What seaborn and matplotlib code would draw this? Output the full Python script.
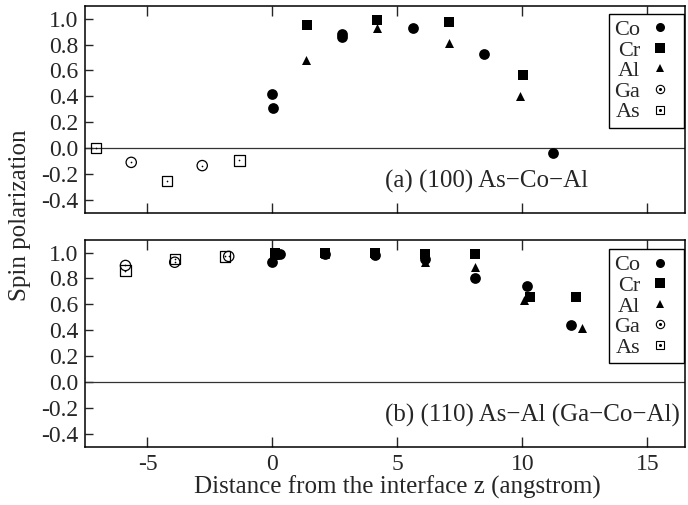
import matplotlib
matplotlib.use("Agg")
import matplotlib.pyplot as plt
import seaborn as sns
import numpy as np
import pandas as pd
from matplotlib.lines import Line2D
from matplotlib.legend_handler import HandlerTuple

# (a) (100) As-Co-Al
co_a_z = [0.0, 0.03, 2.8, 2.8, 5.63, 8.48, 11.23]
co_a_p = [0.42, 0.31, 0.885, 0.86, 0.93, 0.73, -0.04]
cr_a_z = [1.37, 4.2, 7.05, 10.03]
cr_a_p = [0.95, 0.99, 0.975, 0.565]
al_a_z = [1.35, 4.2, 7.05, 9.92]
al_a_p = [0.68, 0.93, 0.815, 0.40]
ga_a_z = [-5.65, -2.81]
ga_a_p = [-0.11, -0.135]
as_a_z = [-7.05, -4.21, -1.32]
as_a_p = [0.0, -0.255, -0.095]

# (b) (110) As-Al (Ga-Co-Al)
co_b_z = [0.0, 0.32, 2.1, 4.12, 6.12, 8.12, 10.19, 11.95]
co_b_p = [0.925, 0.99, 0.985, 0.98, 0.95, 0.80, 0.74, 0.44]
cr_b_z = [0.12, 2.1, 4.12, 6.12, 8.12, 10.3, 12.16]
cr_b_p = [1.0, 1.0, 0.995, 0.99, 0.99, 0.655, 0.655]
al_b_z = [0.1, 2.1, 4.12, 6.12, 8.12, 10.08, 12.39]
al_b_p = [0.98, 0.99, 0.99, 0.93, 0.89, 0.635, 0.415]
ga_b_z = [-5.88, -3.91, -1.75]
ga_b_p = [0.90, 0.925, 0.97]
as_b_z = [-5.88, -3.91, -1.91]
as_b_p = [0.86, 0.95, 0.97]

elements = ['Co', 'Cr', 'Al', 'Ga', 'As']
panel_labels = ['(a) (100) As\u2212Co\u2212Al', '(b) (110) As\u2212Al (Ga\u2212Co\u2212Al)']
yticks = [-0.4, -0.2, 0.0, 0.2, 0.4, 0.6, 0.8, 1.0]

frames = []
for panel, series in [('a', [(co_a_z, co_a_p), (cr_a_z, cr_a_p), (al_a_z, al_a_p), (ga_a_z, ga_a_p), (as_a_z, as_a_p)]),
                      ('b', [(co_b_z, co_b_p), (cr_b_z, cr_b_p), (al_b_z, al_b_p), (ga_b_z, ga_b_p), (as_b_z, as_b_p)])]:
    for el, (z, p) in zip(elements, series):
        frames.append(pd.DataFrame({'panel': panel, 'element': el, 'z': z, 'P': p}))
df = pd.concat(frames, ignore_index=True)

sns.set_theme(style='ticks')
plt.rcParams['font.family'] = ['Liberation Serif', 'DejaVu Serif']
plt.rcParams['axes.unicode_minus'] = False

# marker style per element: (marker, size, filled)
styles = {
    'Co': ('o', 60, True),
    'Cr': ('s', 60, True),
    'Al': ('^', 42, True),
    'Ga': ('o', 55, False),
    'As': ('s', 55, False),
}

fig, axes = plt.subplots(2, 1, figsize=(6.88, 5.05), dpi=100, sharex=True)
fig.subplots_adjust(left=0.1235, right=0.9956, top=0.9887, bottom=0.1154, hspace=0.129)

# legend anchor: small gap on top, almost flush on the right
legend_anchor = [(0.998, 0.96), (0.998, 0.953)]

for ax, panel, label, anchor in zip(axes, ['a', 'b'], panel_labels, legend_anchor):
    ax.axhline(0, color='#333333', lw=0.9, zorder=1)
    for el in elements:
        sub = df[(df.panel == panel) & (df.element == el)]
        m, s, filled = styles[el]
        if filled:
            sns.scatterplot(data=sub, x='z', y='P', ax=ax, marker=m, s=s,
                            color='black', edgecolor='black', linewidth=0, zorder=3)
        else:
            sns.scatterplot(data=sub, x='z', y='P', ax=ax, marker=m, s=s,
                            facecolors='none', edgecolor='black', linewidth=0.9, zorder=3)
            sns.scatterplot(data=sub, x='z', y='P', ax=ax, marker='o', s=1.5,
                            color='black', edgecolor='black', linewidth=0, zorder=3)
    ax.set_xlim(-7.5, 16.5)
    ax.set_ylim(-0.5, 1.1)
    ax.set_xticks([-5, 0, 5, 10, 15])
    ax.set_yticks(yticks)
    ax.set_yticklabels([f'{v:.1f}' for v in yticks])
    ax.tick_params(axis='x', direction='in', top=True, bottom=True, length=7, width=1, labelsize=17, pad=5)
    ax.tick_params(axis='y', direction='in', left=True, right=False, length=6, width=1, labelsize=17, pad=5)
    for sp in ax.spines.values():
        sp.set_linewidth(1.1)
        sp.set_color('black')
    ax.set_xlabel('')
    ax.set_ylabel('')
    ax.text(4.5, -0.26, label, fontsize=18, ha='left', va='center')

    handles = []
    for el in elements:
        m, s, filled = styles[el]
        if filled:
            handles.append(Line2D([], [], ls='none', marker=m, markersize=6.5 if m != '^' else 6,
                                  color='black', markeredgewidth=0))
        else:
            h1 = Line2D([], [], ls='none', marker=m, markersize=6, markerfacecolor='none',
                        markeredgecolor='black', markeredgewidth=0.8)
            h2 = Line2D([], [], ls='none', marker='o', markersize=1.2, color='black')
            handles.append((h1, h2))
    leg = ax.legend(handles, elements, loc='upper right', bbox_to_anchor=anchor,
                    markerfirst=False, fontsize=16,
                    frameon=True, fancybox=False, framealpha=1, edgecolor='black',
                    borderaxespad=0, handlelength=1.6, handletextpad=0.1,
                    labelspacing=0.0, borderpad=0.25,
                    handler_map={tuple: HandlerTuple(ndivide=1)})
    leg.get_frame().set_linewidth(1.0)
    for t in leg.get_texts():
        t.set_ha('right')

axes[1].set_xlabel('Distance from the interface z (angstrom)', fontsize=18)
axes[1].xaxis.set_label_coords(0.521, -0.14)
fig.text(0.029, 0.573, 'Spin polarization', rotation=90, fontsize=18, ha='center', va='center')

fig.savefig('out.png', dpi=100)
